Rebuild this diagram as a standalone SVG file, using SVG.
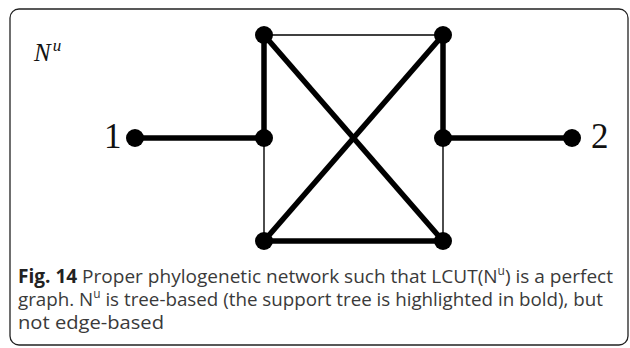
<svg xmlns="http://www.w3.org/2000/svg" width="630" height="348" viewBox="0 0 630 348">
<style>
.thick{stroke:#000;stroke-width:5.5;fill:none}
.thin{stroke:#000;stroke-width:1.4;fill:none}
.lbl{font-family:"Liberation Serif","DejaVu Serif",serif;fill:#111}
.cap{font-family:"Open Sans","Noto Sans",sans-serif;font-size:19px;fill:#3a3a3a}
</style>
<rect x="10" y="9" width="618" height="336" rx="9" fill="#fff" stroke="#222" stroke-width="1.3"/>
<g id="connectors">
<line class="thin" x1="264" y1="35" x2="443" y2="35"/>
<line class="thin" x1="264" y1="138" x2="264" y2="241"/>
<line class="thin" x1="443" y1="138" x2="443" y2="241"/>
<line class="thick" x1="264" y1="35" x2="264" y2="138"/>
<line class="thick" x1="135" y1="138" x2="264" y2="138"/>
<line class="thick" x1="264" y1="35" x2="443" y2="241"/>
<line class="thick" x1="443" y1="35" x2="264" y2="241"/>
<line class="thick" x1="443" y1="35" x2="443" y2="138"/>
<line class="thick" x1="443" y1="138" x2="572" y2="138"/>
<line class="thick" x1="264" y1="241" x2="443" y2="241"/>
</g>
<g id="node-tl"><circle cx="264" cy="35" r="9"/></g>
<g id="node-tr"><circle cx="443" cy="35" r="9"/></g>
<g id="node-ml"><circle cx="264" cy="138" r="9"/></g>
<g id="node-mr"><circle cx="443" cy="138" r="9"/></g>
<g id="node-bl"><circle cx="264" cy="241" r="9"/></g>
<g id="node-br"><circle cx="443" cy="241" r="9"/></g>
<g id="node-1"><circle cx="135" cy="138" r="9"/><text class="lbl" x="104" y="148" font-size="35">1</text></g>
<g id="node-2"><circle cx="572" cy="138" r="9"/><text class="lbl" x="591" y="148" font-size="35">2</text></g>
<g id="title"><text class="lbl" x="34" y="61" font-size="25" font-style="italic">N<tspan font-size="17" dx="2" dy="-10">u</tspan></text></g>
<g id="caption">
<text class="cap" x="18" y="283" textLength="595" lengthAdjust="spacingAndGlyphs"><tspan font-weight="bold" fill="#222">Fig. 14</tspan> Proper phylogenetic network such that LCUT(N<tspan font-size="12" dy="-8">u</tspan><tspan dy="8">) is a perfect</tspan></text>
<text class="cap" x="18" y="306" textLength="585" lengthAdjust="spacingAndGlyphs">graph. N<tspan font-size="12" dy="-8">u</tspan><tspan dy="8"> is tree-based (the support tree is highlighted in bold), but</tspan></text>
<text class="cap" x="18" y="329" textLength="146" lengthAdjust="spacingAndGlyphs">not edge-based</text>
</g>
</svg>
